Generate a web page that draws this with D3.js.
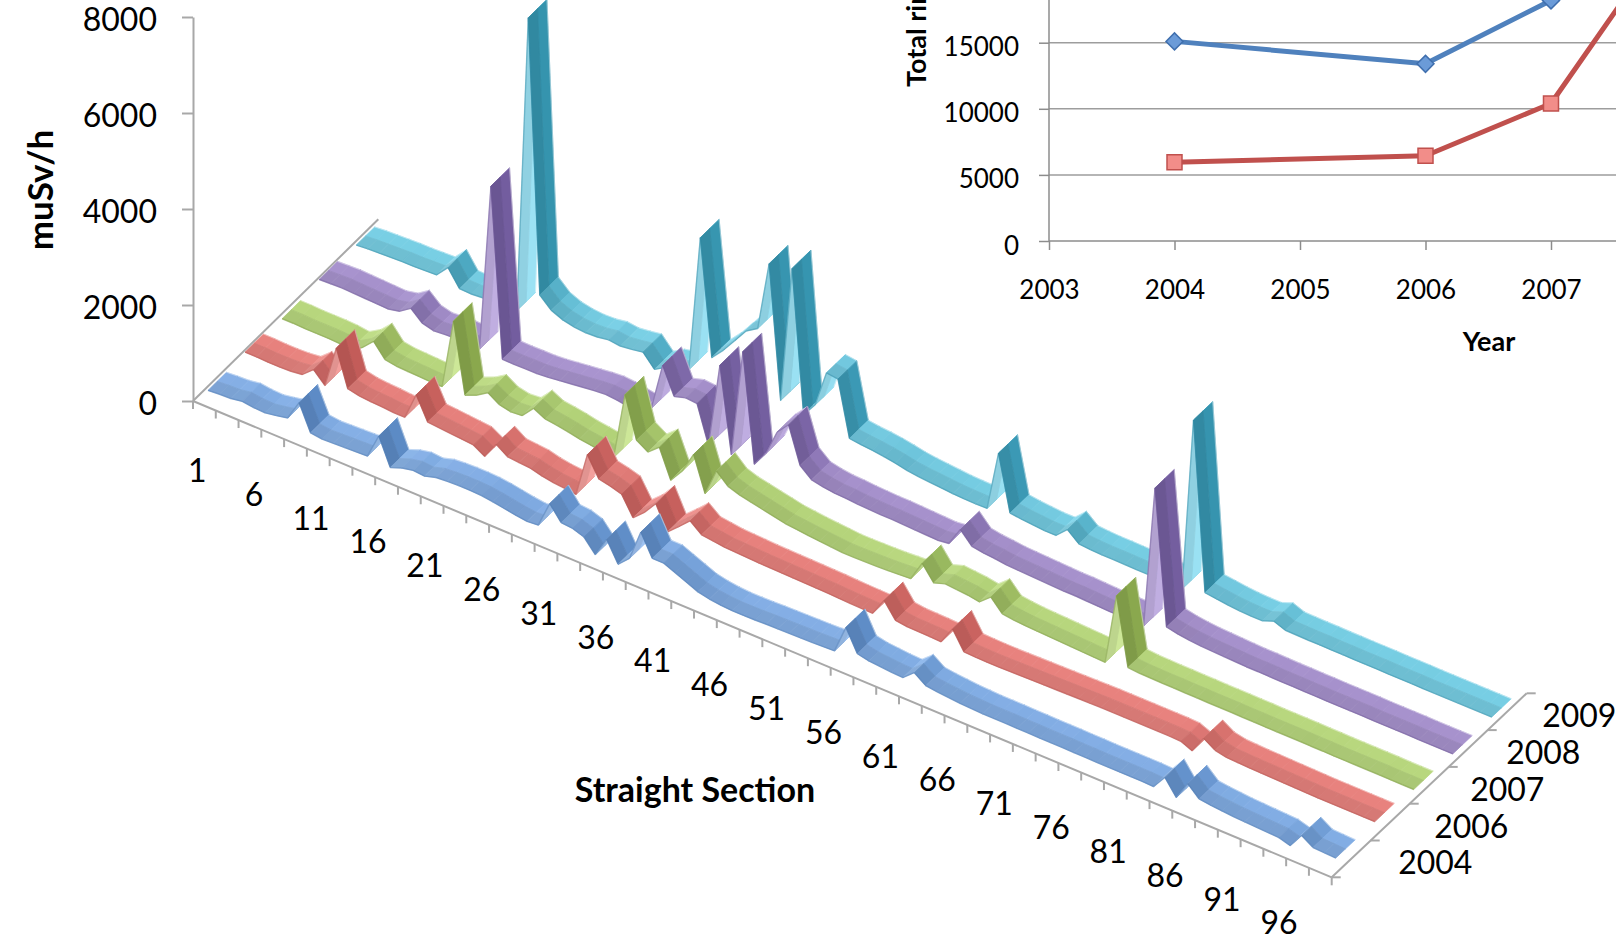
<!DOCTYPE html>
<html>
<head>
<meta charset="utf-8">
<title>Straight section dose per year</title>
<script src="https://cdn.jsdelivr.net/npm/d3@7"></script>
<style>
  body { margin: 0; background: #fff; }
  svg { display: block; font-family: Lato, "Open Sans", sans-serif; }
</style>
</head>
<body>
<svg id="chart" width="1616" height="940"></svg>
<script>
// straight sections 1..100, one ribbon per year
const sections = d3.range(1, 101);
const years = ["2004", "2006", "2007", "2008", "2009"];

const dose2004 = [
  80, 100, 110, 150, 120, 110, 150, 200, 620, 90,
  60, 70, 80, 90, 100, 620, 60, 150, 200, 180,
  250, 270, 280, 280, 270, 240, 200, 160, 130, 150,
  700, 400, 380, 300, 30, 450, 30, 250, 900, 450,
  450, 350, 250, 150, 100, 70, 55, 55, 60, 70,
  75, 80, 85, 90, 100, 110, 700, 250, 200, 180,
  160, 150, 350, 180, 150, 130, 110, 100, 90, 90,
  90, 85, 85, 80, 80, 80, 75, 75, 70, 70,
  70, 70, 70, 60, 350, 30, 420, 200, 170, 150,
  130, 120, 110, 100, 90, 20, 330, 180, 170, 160
];
const dose2006 = [
  120, 120, 110, 110, 120, 150, 350, 120, 1000, 250,
  200, 180, 170, 150, 150, 720, 250, 230, 210, 190,
  170, 30, 380, 220, 200, 180, 120, 80, 60, 30,
  960, 550, 500, 430, 40, 250, 530, 40, 250, 470,
  280, 250, 220, 210, 200, 190, 185, 180, 175, 170,
  165, 160, 150, 140, 135, 130, 500, 180, 150, 145,
  140, 130, 500, 120, 110, 105, 105, 110, 115, 120,
  125, 130, 135, 140, 145, 150, 150, 150, 150, 150,
  150, 150, 140, 40, 400, 250, 200, 190, 180, 175,
  170, 165, 160, 155, 150, 150, 150, 150, 150, 150
];
const dose2007 = [
  60, 60, 50, 50, 50, 40, 10, 150, 380, 100,
  60, 50, 40, 30, 30, 1500, 50, 150, 300, 150,
  100, 120, 370, 250, 220, 180, 130, 100, 60, 40,
  1450, 600, 450, 650, 60, 350, 800, 80, 650, 430,
  350, 300, 250, 200, 150, 125, 100, 80, 60, 40,
  40, 45, 50, 60, 75, 90, 510, 200, 280, 260,
  240, 200, 400, 150, 120, 100, 90, 80, 70, 60,
  50, 40, 30, 1520, 120, 100, 95, 90, 90, 85,
  85, 80, 80, 80, 75, 75, 70, 70, 70, 70,
  65, 65, 60, 60, 60, 60, 60, 55, 55, 55
];
const dose2008 = [
  120, 130, 140, 130, 120, 110, 100, 150, 310, 100,
  40, 60, 70, 60, 50, 3550, 40, 35, 40, 40,
  60, 90, 120, 150, 180, 200, 180, 140, 100, 300,
  1300, 750, 820, 800, 30, 1800, 30, 2280, 30, 350,
  900, 1150, 400, 200, 150, 120, 110, 90, 80, 70,
  70, 60, 50, 40, 30, 60, 450, 200, 160, 140,
  110, 100, 90, 80, 70, 60, 60, 50, 40, 30,
  30, 25, 20, 3000, 200, 150, 120, 100, 90, 80,
  70, 60, 60, 55, 50, 50, 45, 45, 40, 40,
  40, 40, 35, 35, 35, 35, 30, 30, 30, 30
];
const dose2009 = [
  80, 100, 110, 120, 130, 130, 140, 150, 400, 60,
  50, 70, 80, 90, 100, 6300, 620, 400, 300, 250,
  230, 240, 280, 250, 280, 320, 60, 200, 250, 350,
  3200, 800, 1050, 1350, 1650, 1800, 3250, 500, 3350, 400,
  700, 1470, 1440, 300, 270, 250, 220, 180, 130, 100,
  80, 60, 40, 30, 25, 30, 1280, 130, 100, 80,
  60, 60, 280, 80, 60, 50, 50, 45, 40, 40,
  35, 30, 30, 3650, 150, 120, 90, 70, 60, 60,
  150, 60, 55, 50, 50, 45, 45, 40, 40, 40,
  35, 35, 35, 30, 30, 30, 30, 30, 30, 30
];
const doseByYear = [dose2004, dose2006, dose2007, dose2008, dose2009];
const valueTicks = [0, 2000, 4000, 6000, 8000];
const sectionLabels = sections.filter(s => s % 5 === 1);

// inset: yearly totals
const insetYears = [2004, 2006, 2007, 2008];
const totalBlue = [15100, 13400, 18200, 26000];
const totalRed = [5950, 6450, 10400, 24000];
const insetYTicks = [0, 5000, 10000, 15000];
const insetXTicks = [2003, 2004, 2005, 2006, 2007];

// ribbon colours: flat top, rising face, falling face
const palette = {
  "2004": { flat: "#7ea7db", up: "#9ec0ea", down: "#4b79b3" },
  "2006": { flat: "#de7d79", up: "#eb9e9b", down: "#b34f4c" },
  "2007": { flat: "#b0ce79", up: "#c6df95", down: "#7f9c45" },
  "2008": { flat: "#a08cc4", up: "#b9a8d9", down: "#6c5796" },
  "2009": { flat: "#72c5da", up: "#96d9ea", down: "#318ca6" }
};
const axisColor = "#a8a8a8";

const svg = d3.select("#chart");

// floor corners: front-left, front-right, back-left, back-right
const FL = [193, 401], FR = [1331.7, 877.3], BL = [378.3, 219.3], BR = [1526.7, 693.3];

const uScale = d3.scaleLinear().domain([0.5, 100.5]).range([0, 1]);
const dScale = d3.scalePoint().domain(years).range([0.1, 0.9]);
const hScale = d3.scaleLinear().domain([0, 8000]).range([0, 384]);
const ribbonHalf = 0.05;

function project(u, d, v) {
  const x = (1 - u) * (1 - d) * FL[0] + u * (1 - d) * FR[0] + (1 - u) * d * BL[0] + u * d * BR[0];
  const y = (1 - u) * (1 - d) * FL[1] + u * (1 - d) * FR[1] + (1 - u) * d * BL[1] + u * d * BR[1];
  return [x, y - hScale(v)];
}

function shade(yr, rise) {
  const p = palette[yr];
  const t = Math.atan(rise / 11.4) / (Math.PI / 2);
  return t >= 0 ? d3.interpolateRgb(p.flat, p.up)(t) : d3.interpolateRgb(p.flat, p.down)(-t);
}

// --- floor edges and ticks
const floor = svg.append("g").attr("stroke", axisColor).attr("stroke-width", 2);
[[FL, BL], [FL, FR], [FR, BR]].forEach(([a, b]) => {
  floor.append("line").attr("x1", a[0]).attr("y1", a[1]).attr("x2", b[0]).attr("y2", b[1]);
});
floor.selectAll("line.xt").data(d3.range(0, 101, 2)).join("line")
  .attr("class", "xt")
  .attr("x1", k => project(k / 100, 0, 0)[0])
  .attr("x2", k => project(k / 100, 0, 0)[0])
  .attr("y1", k => project(k / 100, 0, 0)[1])
  .attr("y2", k => project(k / 100, 0, 0)[1] + 8);
floor.selectAll("line.zt").data(d3.range(0, 6)).join("line")
  .attr("class", "zt")
  .attr("x1", k => project(1, k / 5, 0)[0])
  .attr("x2", k => project(1, k / 5, 0)[0] + 9)
  .attr("y1", k => project(1, k / 5, 0)[1])
  .attr("y2", k => project(1, k / 5, 0)[1]);

// section labels
svg.append("g").selectAll("text").data(sectionLabels).join("text")
  .attr("x", c => project(uScale(c), 0, 0)[0] - 1.5)
  .attr("y", c => project(uScale(c), 0, 0)[1] + 66)
  .attr("text-anchor", "middle")
  .attr("dominant-baseline", "central")
  .attr("font-size", 32)
  .text(c => c);

// year labels on the depth axis
svg.append("g").selectAll("text").data(years).join("text")
  .attr("x", (yr, i) => project(1, dScale(yr), 0)[0] + 47 - 3 * i)
  .attr("y", yr => project(1, dScale(yr), 0)[1] + 3)
  .attr("dominant-baseline", "central")
  .attr("font-size", 32)
  .text(yr => yr);

// value axis
const yVal = d3.scaleLinear().domain([0, 8000]).range([FL[1], FL[1] - 384]);
svg.append("g")
  .attr("transform", `translate(${FL[0]},0)`)
  .call(d3.axisLeft(yVal).tickValues(valueTicks).tickFormat(d3.format("d"))
    .tickSize(11).tickSizeOuter(0).tickPadding(25))
  .call(g => {
    g.attr("font-family", null).attr("font-size", 32);
    g.select(".domain").attr("stroke", axisColor).attr("stroke-width", 2);
    g.selectAll(".tick line").attr("stroke", axisColor).attr("stroke-width", 2);
    g.selectAll(".tick text").attr("fill", "#000").attr("dy", "0.42em");
  });

svg.append("text")
  .attr("transform", "translate(53,190) rotate(-90)")
  .attr("text-anchor", "middle")
  .attr("font-weight", "bold")
  .attr("font-size", 35)
  .text("muSv/h");

svg.append("text")
  .attr("x", 695).attr("y", 788)
  .attr("text-anchor", "middle")
  .attr("dominant-baseline", "central")
  .attr("font-weight", "bold")
  .attr("font-size", 34)
  .text("Straight Section");

// --- ribbons, back to front; each segment split into a back (lit) and front half
const ribbons = svg.append("g");
years.slice().reverse().forEach(yr => {
  const vals = doseByYear[years.indexOf(yr)];
  const d = dScale(yr);
  const segs = d3.pairs(sections).map(([a, b]) => {
    const va = vals[a - 1], vb = vals[b - 1];
    const ua = uScale(a), ub = uScale(b);
    return {
      f1: project(ua, d - ribbonHalf, va),
      f2: project(ub, d - ribbonHalf, vb),
      m1: project(ua, d, va),
      m2: project(ub, d, vb),
      b2: project(ub, d + ribbonHalf, vb),
      b1: project(ua, d + ribbonHalf, va),
      rise: hScale(vb) - hScale(va)
    };
  });
  const g = ribbons.append("g").attr("class", "ribbon-" + yr);
  segs.forEach(s => {
    const col = d3.color(shade(yr, s.rise));
    const lit = col.brighter(0.12).formatHex();
    const dim = col.darker(0.1).formatHex();
    g.append("path")
      .attr("d", "M" + [s.m1, s.m2, s.b2, s.b1].join("L") + "Z")
      .attr("fill", lit).attr("stroke", lit)
      .attr("stroke-width", 0.8).attr("stroke-linejoin", "round");
    g.append("path")
      .attr("d", "M" + [s.f1, s.f2, s.m2, s.m1].join("L") + "Z")
      .attr("fill", dim).attr("stroke", dim)
      .attr("stroke-width", 0.8).attr("stroke-linejoin", "round");
    g.append("path")
      .attr("d", "M" + s.b1 + "L" + s.b2)
      .attr("stroke", "#ffffff").attr("stroke-opacity", 0.4).attr("stroke-width", 1.2);
    g.append("path")
      .attr("d", "M" + s.f1 + "L" + s.f2)
      .attr("stroke", palette[yr].down).attr("stroke-opacity", 0.45).attr("stroke-width", 1.4);
  });
});

// --- inset line chart (top right)
const inset = svg.append("g");
inset.append("rect").attr("x", 870).attr("y", 0).attr("width", 746).attr("height", 362).attr("fill", "#fff");

const ix = d3.scaleLinear().domain([2003, 2007]).range([1049, 1551]);
const iy = d3.scaleLinear().domain([0, 15000]).range([241, 42.7]);

inset.append("g").selectAll("line").data(insetYTicks.slice(1)).join("line")
  .attr("x1", ix(2003)).attr("x2", 1616)
  .attr("y1", v => iy(v)).attr("y2", v => iy(v))
  .attr("stroke", "#9d9d9d").attr("stroke-width", 1.5);

inset.append("line").attr("x1", ix(2003)).attr("x2", ix(2003)).attr("y1", 0).attr("y2", iy(0))
  .attr("stroke", "#8c8c8c").attr("stroke-width", 1.5);
inset.append("line").attr("x1", ix(2003)).attr("x2", 1616).attr("y1", iy(0)).attr("y2", iy(0))
  .attr("stroke", "#8c8c8c").attr("stroke-width", 1.5);

inset.append("g")
  .attr("transform", `translate(${ix(2003)},0)`)
  .call(d3.axisLeft(iy).tickValues(insetYTicks).tickFormat(d3.format("d")).tickSize(10).tickSizeOuter(0).tickPadding(20))
  .call(g => {
    g.attr("font-family", null).attr("font-size", 26);
    g.select(".domain").remove();
    g.selectAll(".tick line").attr("stroke", "#8c8c8c").attr("stroke-width", 1.5);
    g.selectAll(".tick text").attr("fill", "#000").attr("dy", "0.5em");
  });

inset.append("g")
  .attr("transform", `translate(0,${iy(0)})`)
  .call(d3.axisBottom(ix).tickValues(insetXTicks).tickFormat(d3.format("d")).tickSize(9).tickSizeOuter(0).tickPadding(31))
  .call(g => {
    g.attr("font-family", null).attr("font-size", 26);
    g.select(".domain").remove();
    g.selectAll(".tick line").attr("stroke", "#8c8c8c").attr("stroke-width", 1.5);
    g.selectAll(".tick text").attr("fill", "#000");
  });

const totalLine = d3.line().x((v, i) => ix(insetYears[i])).y(v => iy(v));
inset.append("path").attr("d", totalLine(totalBlue))
  .attr("fill", "none").attr("stroke", "#4f81bd").attr("stroke-width", 5).attr("stroke-linejoin", "round");
inset.append("path").attr("d", totalLine(totalRed))
  .attr("fill", "none").attr("stroke", "#c0504d").attr("stroke-width", 5).attr("stroke-linejoin", "round");

inset.append("g").selectAll("path").data(totalBlue).join("path")
  .attr("d", d3.symbol(d3.symbolSquare, 144))
  .attr("transform", (v, i) => `translate(${ix(insetYears[i])},${iy(v)}) rotate(45)`)
  .attr("fill", "#6b9bd8").attr("stroke", "#3f6fae").attr("stroke-width", 1.5);
inset.append("g").selectAll("path").data(totalRed).join("path")
  .attr("d", d3.symbol(d3.symbolSquare, 225))
  .attr("transform", (v, i) => `translate(${ix(insetYears[i])},${iy(v)})`)
  .attr("fill", "#f28d89").attr("stroke", "#c0504d").attr("stroke-width", 1.5);

inset.append("text")
  .attr("x", 1489).attr("y", 340)
  .attr("text-anchor", "middle")
  .attr("dominant-baseline", "central")
  .attr("font-weight", "bold")
  .attr("font-size", 27)
  .text("Year");

// the reference shows this title running off the top edge
inset.append("text")
  .attr("transform", "translate(926,87) rotate(-90)")
  .attr("font-weight", "bold")
  .attr("font-size", 27)
  .text("Total ring dose (muSv/h)");
</script>
</body>
</html>
